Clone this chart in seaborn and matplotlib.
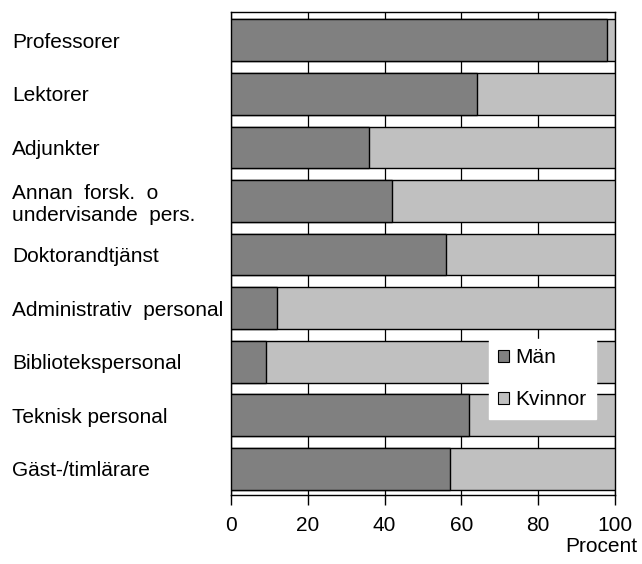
import pandas as pd
import seaborn as sns
import matplotlib.pyplot as plt
from matplotlib.patches import Patch

# data (percent)
categories = ["Professorer",
              "Lektorer",
              "Adjunkter",
              "Annan  forsk.  o\nundervisande  pers.",
              "Doktorandtjänst",
              "Administrativ  personal",
              "Bibliotekspersonal",
              "Teknisk personal",
              "Gäst-/timlärare"]
man = [98, 64, 36, 42, 56, 12, 9, 62, 57]
kvinnor = [2, 36, 64, 58, 44, 88, 91, 38, 43]
series_names = ["Män", "Kvinnor"]
x_ticks = [0, 20, 40, 60, 80, 100]

dark = "#808080"
light = "#c0c0c0"
fs = 15

sns.set_style("white")
plt.rcParams["font.family"] = ["Liberation Sans", "DejaVu Sans"]
plt.rcParams["text.color"] = "black"
plt.rcParams["xtick.color"] = "black"
plt.rcParams["ytick.color"] = "black"

df = pd.DataFrame({"kategori": categories, "Män": man, "Kvinnor": kvinnor})
df["total"] = df["Män"] + df["Kvinnor"]

fig = plt.figure(figsize=(6.42, 5.64), dpi=100)
ax = fig.add_axes([231 / 642, 1 - 495 / 564, 384 / 642, 483 / 564])

# stacked: draw the total (Kvinnor colour) first, then Män on top
sns.barplot(data=df, x="total", y="kategori", orient="h", color=light,
            saturation=1, edgecolor="black", linewidth=1, width=0.78,
            ax=ax, zorder=3)
sns.barplot(data=df, x="Män", y="kategori", orient="h", color=dark,
            saturation=1, edgecolor="black", linewidth=1, width=0.78,
            ax=ax, zorder=4)

ax.set_xlim(0, 100)
ax.set_ylim(8.49, -0.53)
ax.set_xticks(x_ticks)
ax.set_xticklabels([str(t) for t in x_ticks], fontsize=fs)
ax.xaxis.grid(True, color="black", linewidth=0.9, zorder=0)
ax.set_axisbelow(True)
ax.set_xlabel("")
ax.set_ylabel("")

for s in ax.spines.values():
    s.set_color("black")
    s.set_linewidth(1)

ax.tick_params(axis="x", direction="out", length=7, width=1, color="black",
               pad=8, bottom=True)
ax.tick_params(axis="y", length=0, pad=157.7)
for lab in ax.get_yticklabels():
    lab.set_horizontalalignment("left")
    lab.set_fontsize(fs)
    lab.set_linespacing(1.2)

handles = [Patch(facecolor=dark, edgecolor="black", linewidth=0.8),
           Patch(facecolor=light, edgecolor="black", linewidth=0.8)]
leg = ax.legend(handles, series_names, loc="upper left",
                bbox_to_anchor=(258 / 384, 156 / 483), fontsize=fs,
                frameon=True, fancybox=False, framealpha=1,
                edgecolor="white", handlelength=0.5, handleheight=0.5,
                handletextpad=0.3, labelspacing=1.1, borderpad=0.45,
                borderaxespad=0)
leg.set_zorder(10)

fig.text(637 / 642, 1 - 547 / 564, "Procent", ha="right", va="center",
         fontsize=fs)

fig.savefig("out.png", dpi=100)
